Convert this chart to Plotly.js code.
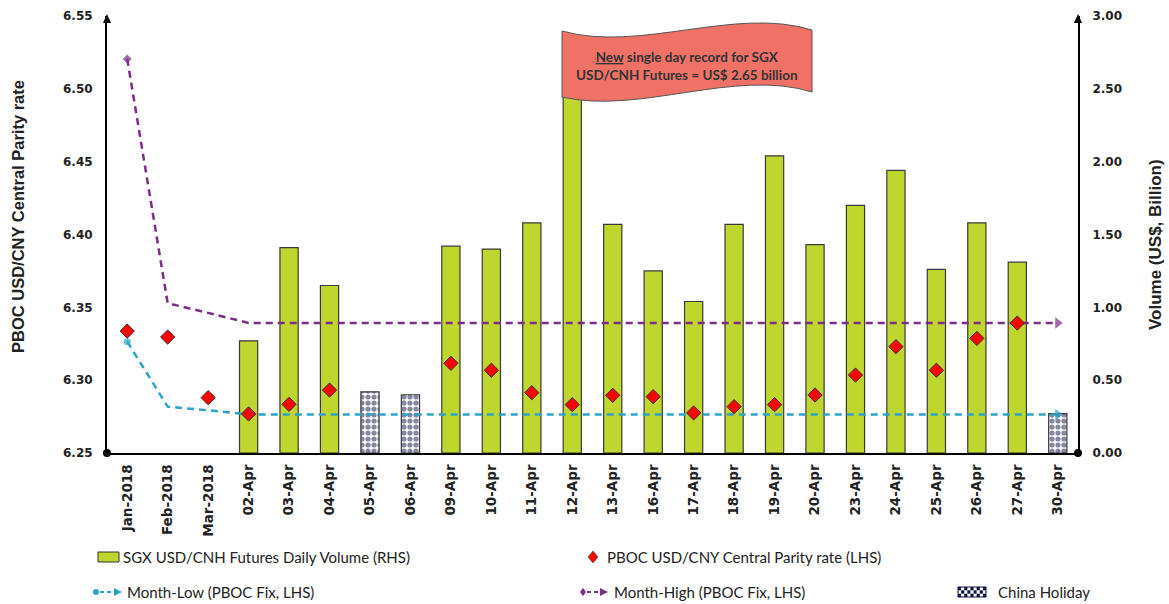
<!DOCTYPE html>
<html><head><meta charset="utf-8">
<script src="https://cdn.plot.ly/plotly-3.0.1.min.js"></script>
<style>html,body{margin:0;padding:0;background:#fff;}#chart{width:1169px;height:604px;}</style>
</head><body><div id="chart"></div>
<script>
const categories = ['Jan-2018','Feb-2018','Mar-2018','02-Apr','03-Apr','04-Apr','05-Apr','06-Apr','09-Apr','10-Apr','11-Apr','12-Apr','13-Apr','16-Apr','17-Apr','18-Apr','19-Apr','20-Apr','23-Apr','24-Apr','25-Apr','26-Apr','27-Apr','30-Apr'];
const volume = [null,null,null,0.77,1.41,1.15,null,null,1.42,1.40,1.58,2.65,1.57,1.25,1.04,1.57,2.04,1.43,1.70,1.94,1.26,1.58,1.31,null];
const holidayVolume = [null,null,null,null,null,null,0.42,0.40,null,null,null,null,null,null,null,null,null,null,null,null,null,null,null,0.27];
const parity = [6.3337,6.3296,6.2880,6.2768,6.2834,6.2932,null,null,6.3116,6.3068,6.2914,6.2832,6.2896,6.2887,6.2775,6.2818,6.2832,6.2898,6.3035,6.3230,6.3068,6.3287,6.3392,null];
const monthHigh = [6.5205,6.3528,6.3462,6.3393,6.3393,6.3393,6.3393,6.3393,6.3393,6.3393,6.3393,6.3393,6.3393,6.3393,6.3393,6.3393,6.3393,6.3393,6.3393,6.3393,6.3393,6.3393,6.3393,6.3393];
const monthLow = [6.3264,6.2818,6.2793,6.2764,6.2764,6.2764,6.2764,6.2764,6.2764,6.2764,6.2764,6.2764,6.2764,6.2764,6.2764,6.2764,6.2764,6.2764,6.2764,6.2764,6.2764,6.2764,6.2764,6.2764];
const leftTicks = [6.25,6.30,6.35,6.40,6.45,6.50,6.55];
const rightTicks = [0,0.5,1,1.5,2,2.5,3];
const leftTitle = 'PBOC USD/CNY Central Parity rate';
const rightTitle = 'Volume (US$, Billion)';

const GREEN = '#bfd62f', RED = '#ff0000', PURPLE = '#7b2d86', TEAL = '#2ea3c6', NAVY = '#0e1240';
const n = categories.length;
function endMarkers(firstSym){
  const sym = [], size = [];
  for (let i=0;i<n;i++){ sym.push(i===0?firstSym:(i===n-1?'triangle-right':'circle')); size.push(i===0?7:(i===n-1?10:0)); }
  return {sym, size};
}
const mh = endMarkers('diamond'), ml = endMarkers('circle');

const traces = [
  {type:'bar', x:categories, y:volume, yaxis:'y', marker:{color:GREEN, line:{color:'#3a3a3a', width:1.2}}, showlegend:false, hoverinfo:'skip'},
  {type:'bar', x:categories, y:holidayVolume, yaxis:'y', marker:{color:'#ffffff', line:{color:'#3a3a3a', width:1.2}, pattern:{shape:'.', fgcolor:NAVY, bgcolor:'#ffffff', size:6, solidity:0.6, fillmode:'overlay'}}, showlegend:false, hoverinfo:'skip'},
  {type:'scatter', mode:'lines+markers', x:categories, y:monthHigh, yaxis:'y2', line:{color:PURPLE, width:2.5, dash:'7px,5px'}, marker:{color:PURPLE, symbol:mh.sym, size:mh.size, line:{width:0}}, showlegend:false, hoverinfo:'skip', cliponaxis:false},
  {type:'scatter', mode:'lines+markers', x:categories, y:monthLow, yaxis:'y2', line:{color:TEAL, width:2.5, dash:'7px,5px'}, marker:{color:TEAL, symbol:ml.sym, size:ml.size, line:{width:0}}, showlegend:false, hoverinfo:'skip', cliponaxis:false},
  {type:'scatter', mode:'markers', x:categories, y:parity, yaxis:'y2', marker:{symbol:'diamond', color:RED, size:11, line:{color:'#333', width:1}}, showlegend:false, hoverinfo:'skip', cliponaxis:false}
];

const L=107, T=16, W=971, H=437, B=T+H;
const X = px => (px-L)/W, Y = py => (B-py)/H;
const shapes = [], annotations = [];
[0,1].forEach(xa=>{
  shapes.push({type:'path', xref:'paper', yref:'paper', xsizemode:'pixel', ysizemode:'pixel', xanchor:xa, yanchor:1, path:'M-4,-7 L4,-7 L0,2 Z', fillcolor:'#000', line:{width:0}, layer:'above'});
  shapes.push({type:'circle', xref:'paper', yref:'paper', xsizemode:'pixel', ysizemode:'pixel', xanchor:xa, yanchor:0, x0:-4, x1:4, y0:-4, y1:4, fillcolor:'#000', line:{width:0}, layer:'above'});
});
function P(px,py){ return X(px).toFixed(5)+','+Y(py).toFixed(5); }
const banner = 'M'+P(562,31)+' C'+P(640,53)+' '+P(735,6)+' '+P(812,30)+' L'+P(812,92)+' C'+P(735,68)+' '+P(640,115)+' '+P(562,97)+' Z';
shapes.push({type:'path', xref:'paper', yref:'paper', path:banner, fillcolor:'#f07266', line:{color:'#555', width:1}, layer:'above'});
annotations.push({xref:'paper', yref:'paper', x:X(687), y:Y(66), xanchor:'center', yanchor:'middle', showarrow:false,
  text:'<b><u>New</u> single day record for SGX<br>USD/CNH Futures = US$ 2.65 billion</b>', font:{family:'Lato, sans-serif', size:13.5, color:'#333'}, align:'center'});
const TF = {family:'Liberation Sans, Arial, sans-serif', color:'#222', weight:'bold'};
annotations.push({xref:'paper', yref:'paper', x:X(18), y:Y(217), xanchor:'center', yanchor:'middle', textangle:-90, showarrow:false, text:leftTitle, font:Object.assign({size:16.5}, TF)});
annotations.push({xref:'paper', yref:'paper', x:X(1155), y:Y(245), xanchor:'center', yanchor:'middle', textangle:-90, showarrow:false, text:rightTitle, font:Object.assign({size:17}, TF)});
const LF = {family:'Lato, sans-serif', size:15, color:'#222'};
function legText(px,py,t){ annotations.push({xref:'paper', yref:'paper', x:X(px), y:Y(py), xanchor:'left', yanchor:'middle', showarrow:false, text:t, font:LF}); }
function rect(x0,y0,x1,y1,fill,lc,lw){ shapes.push({type:'rect', xref:'paper', yref:'paper', x0:X(x0), x1:X(x1), y0:Y(y0), y1:Y(y1), fillcolor:fill, line:{color:lc, width:lw}}); }
function poly(pts,fill,lc,lw){ shapes.push({type:'path', xref:'paper', yref:'paper', path:'M'+pts.map(p=>P(p[0],p[1])).join(' L')+' Z', fillcolor:fill, line:{color:lc, width:lw}}); }
function seg(x0,y0,x1,y1,c,w,d){ shapes.push({type:'line', xref:'paper', yref:'paper', x0:X(x0), x1:X(x1), y0:Y(y0), y1:Y(y1), line:{color:c, width:w, dash:d}}); }
const r1 = 557, r2 = 592;
rect(98,r1-5,119,r1+5,GREEN,'#333',1);
legText(121,r1,'SGX USD/CNH Futures Daily Volume (RHS)');
poly([[588,r1],[593,r1-6],[598,r1],[593,r1+6]],RED,'#555',0.8);
legText(605,r1,'PBOC USD/CNY Central Parity rate (LHS)');
shapes.push({type:'circle', xref:'paper', yref:'paper', x0:X(93), x1:X(99), y0:Y(r2-3), y1:Y(r2+3), fillcolor:TEAL, line:{width:0}});
seg(100,r2,114,r2,TEAL,2,'4px,3px');
poly([[114,r2-4],[122,r2],[114,r2+4]],TEAL,TEAL,0);
legText(125,r2,'Month-Low (PBOC Fix, LHS)');
poly([[580,r2],[583,r2-4],[586,r2],[583,r2+4]],PURPLE,PURPLE,0);
seg(587,r2,600,r2,PURPLE,2,'4px,3px');
poly([[600,r2-4],[608,r2],[600,r2+4]],PURPLE,PURPLE,0);
legText(612,r2,'Month-High (PBOC Fix, LHS)');
rect(958,r2-5,986,r2+5,'#fff',NAVY,1);
for (let i=0;i<9;i++) for (let j=0;j<3;j++) if ((i+j)%2===0) rect(958+i*28/9,r2-5+j*10/3,958+(i+1)*28/9,r2-5+(j+1)*10/3,NAVY,NAVY,0);
legText(996,r2,'China Holiday');

const layout = {
  width:1169, height:604, margin:{l:L, r:1169-1078, t:T, b:604-B, pad:0},
  paper_bgcolor:'#fff', plot_bgcolor:'#fff', barmode:'overlay', bargap:0.55,
  font:{family:'DejaVu Sans, sans-serif', color:'#222'},
  xaxis:{type:'category', categoryorder:'array', categoryarray:categories, range:[-0.5, n-0.5], autorange:false, tickvals:categories, ticktext:categories, tickangle:-90,
    tickfont:{family:'DejaVu Sans, sans-serif', size:13.5, color:'#222', weight:'bold'}, showline:true, linecolor:'#000', linewidth:2, showgrid:false, zeroline:false, ticks:'', ticklabelstandoff:4},
  yaxis:{side:'right', range:[0,3], tickvals:rightTicks, tickformat:'.2f', showline:true, linecolor:'#000', linewidth:2, showgrid:false, zeroline:false, ticks:'',
    tickfont:{family:'DejaVu Sans, sans-serif', size:12, color:'#222', weight:'bold'}, ticklabelstandoff:10},
  yaxis2:{side:'left', overlaying:'y', range:[6.25,6.55], tickvals:leftTicks, tickformat:'.2f', showline:true, linecolor:'#000', linewidth:2, showgrid:false, zeroline:false, ticks:'',
    tickfont:{family:'DejaVu Sans, sans-serif', size:12, color:'#222', weight:'bold'}, ticklabelstandoff:10},
  shapes, annotations, showlegend:false
};
Plotly.newPlot('chart', traces, layout, {displayModeBar:false, staticPlot:true});
</script></body></html>
